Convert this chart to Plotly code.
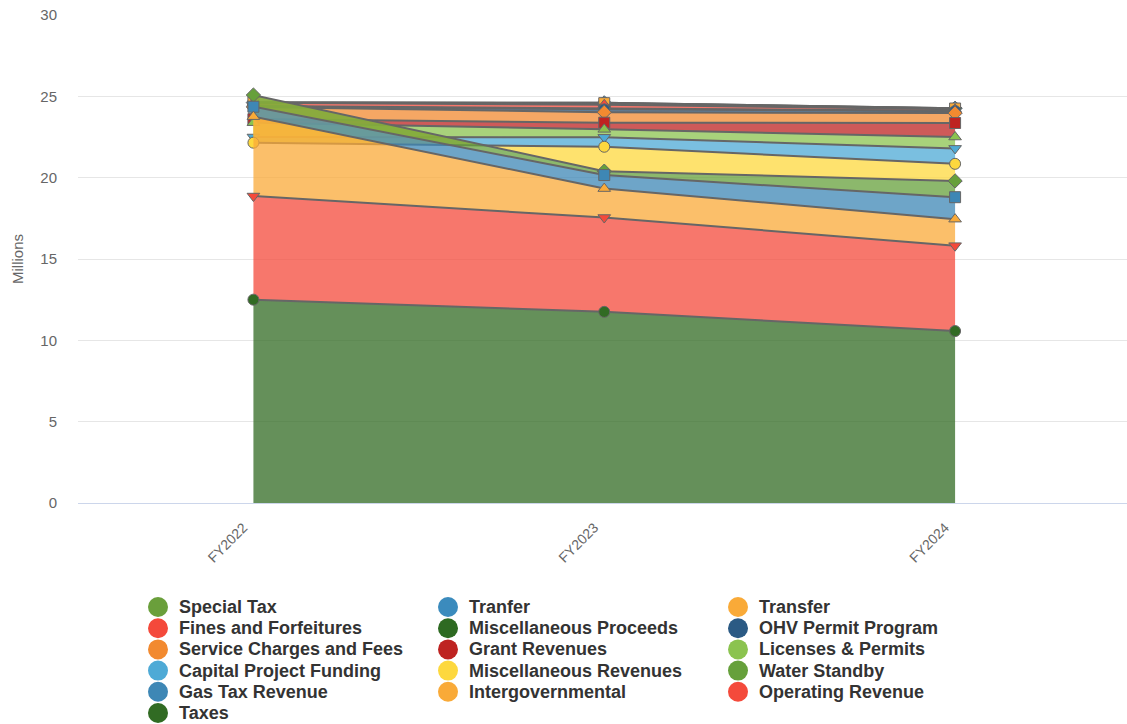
import numpy as np
import plotly.graph_objects as go

W, H = 1127, 724

years = ["FY2022", "FY2023", "FY2024"]

# Revenue sources in legend order; the first one sits at the top of the stack.
series_names = [
    "Special Tax", "Tranfer", "Transfer",
    "Fines and Forfeitures", "Miscellaneous Proceeds", "OHV Permit Program",
    "Service Charges and Fees", "Grant Revenues", "Licenses & Permits",
    "Capital Project Funding", "Miscellaneous Revenues", "Water Standby",
    "Gas Tax Revenue", "Intergovernmental", "Operating Revenue",
    "Taxes",
]

# Values in millions, FY2022 / FY2023 / FY2024
special_tax = [0.0, 0.0, 0.0]
tranfer = [0.0, 0.02, 0.02]
transfer = [0.02, 0.10, 0.05]
fines_forfeitures = [0.20, 0.23, 0.08]
misc_proceeds = [0.02, 0.05, 0.02]
ohv_permit = [0.03, 0.18, 0.13]
service_charges = [0.75, 0.64, 0.61]
grant_revenues = [0.22, 0.41, 0.86]
licenses_permits = [0.88, 0.49, 0.70]
capital_project = [0.35, 0.58, 0.95]
misc_revenues = [-2.93, 1.50, 1.05]
water_standby = [0.72, 0.24, 1.00]
gas_tax = [0.61, 0.83, 1.35]
intergovernmental = [4.88, 1.78, 1.63]
operating_revenue = [6.37, 5.80, 5.25]
taxes = [12.50, 11.75, 10.57]

series_values = [
    special_tax, tranfer, transfer,
    fines_forfeitures, misc_proceeds, ohv_permit,
    service_charges, grant_revenues, licenses_permits,
    capital_project, misc_revenues, water_standby,
    gas_tax, intergovernmental, operating_revenue,
    taxes,
]

series_colors = [
    "#6a9f3b", "#3b8bbd", "#f9aa38",
    "#f4493b", "#2e6a22", "#2b5a84",
    "#f28a30", "#be2321", "#8bc34f",
    "#4eaad6", "#fdd83e", "#66a03b",
    "#3e87b5", "#f9aa38", "#f44a3b",
    "#316b23",
]

marker_cycle = ["circle", "diamond", "square", "triangle-up", "triangle-down"]


def rgba(hex_color, alpha):
    h = hex_color.lstrip("#")
    r, g, b = int(h[0:2], 16), int(h[2:4], 16), int(h[4:6], 16)
    return f"rgba({r},{g},{b},{alpha})"


# Running totals: Taxes forms the base, each following source stacks on top
n = len(series_names)
bottoms, tops = [None] * n, [None] * n
running = np.zeros(len(years))
for idx in reversed(range(n)):
    bottoms[idx] = running.copy()
    running = running + np.asarray(series_values[idx], dtype=float)
    tops[idx] = running.copy()

fig = go.Figure()

# Upper sources are painted first so the lower bands lie over them
for idx in range(n):
    fig.add_trace(go.Scatter(
        x=years,
        y=bottoms[idx],
        mode="lines",
        line=dict(width=0, color="rgba(0,0,0,0)"),
        hoverinfo="skip",
        showlegend=False,
    ))
    fig.add_trace(go.Scatter(
        x=years,
        y=tops[idx],
        customdata=series_values[idx],
        name=series_names[idx],
        mode="lines+markers",
        fill="tonexty",
        fillcolor=rgba(series_colors[idx], 0.75),
        line=dict(color="#666666", width=2),
        marker=dict(
            symbol=marker_cycle[idx % len(marker_cycle)],
            size=11,
            color=series_colors[idx],
            line=dict(color="#666666", width=1),
        ),
        hovertemplate="%{x}<br>" + series_names[idx] + ": %{customdata:.2f}<extra></extra>",
        showlegend=False,
    ))

plot_left, plot_top, plot_bottom = 78, 15, 503

fig.update_layout(
    width=W,
    height=H,
    margin=dict(l=0, r=0, t=0, b=0),
    paper_bgcolor="white",
    plot_bgcolor="white",
    showlegend=False,
    font=dict(family="Liberation Sans, Arial, sans-serif"),
    xaxis=dict(
        domain=[plot_left / W, 1],
        type="category",
        range=[-0.5, 2.49],
        tickangle=-45,
        tickfont=dict(size=14, color="#666666"),
        showgrid=False,
        showline=True,
        linecolor="#ccd6eb",
        linewidth=1,
        ticks="",
        ticklabelstandoff=10,
        ticklabelshift=-10,
        automargin=False,
        fixedrange=True,
    ),
    yaxis=dict(
        domain=[(H - plot_bottom) / H, (H - plot_top) / H],
        range=[0, 30],
        dtick=5,
        tickfont=dict(size=15, color="#666666"),
        gridcolor="#e6e6e6",
        gridwidth=1,
        zeroline=False,
        showline=False,
        ticks="",
        ticklabelstandoff=20,
        title=dict(text="Millions", font=dict(size=15, color="#666666"), standoff=13),
        automargin=False,
        fixedrange=True,
    ),
)

# Legend laid out in three columns beneath the chart
col_x0, col_step = 158, 290
row_y0, row_step = 607, 21.2
for i, (name, color) in enumerate(zip(series_names, series_colors)):
    col, row = i % 3, i // 3
    cx = col_x0 + col * col_step
    cy = row_y0 + row * row_step
    fig.add_shape(
        type="circle",
        xref="paper", yref="paper",
        xsizemode="pixel", ysizemode="pixel",
        xanchor=cx / W, yanchor=1 - cy / H,
        x0=-10, x1=10, y0=-10, y1=10,
        fillcolor=color,
        line=dict(width=0),
    )
    fig.add_annotation(
        text=name,
        xref="paper", yref="paper",
        x=(cx + 19) / W, y=1 - cy / H,
        xanchor="left", yanchor="middle",
        showarrow=False,
        font=dict(size=18, color="#333333", weight="bold"),
    )

fig.write_html("out.html")
